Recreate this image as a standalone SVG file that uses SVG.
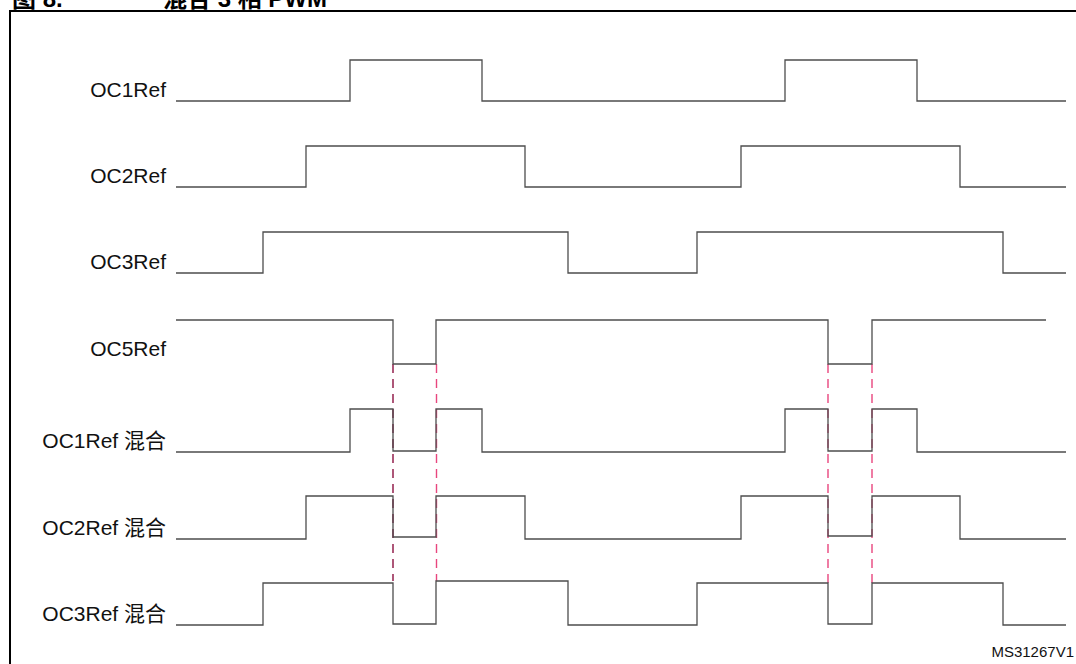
<svg xmlns="http://www.w3.org/2000/svg" width="1076" height="664" viewBox="0 0 1076 664">
<style>
.bg{fill:#ffffff}
.frame{fill:none;stroke:#000;stroke-width:2}
.title{font-family:"Liberation Sans","Noto Sans CJK SC",sans-serif;font-weight:bold;font-size:24px;fill:#000}
.lbl{font-family:"Liberation Sans","Noto Sans CJK SC",sans-serif;font-size:21px;fill:#111;text-anchor:end}
.note{font-family:"Liberation Sans",sans-serif;font-size:15px;fill:#111;text-anchor:end}
.wave{fill:none;stroke:#4d4d4d;stroke-width:1.3}
.d1{stroke:#8c1040;stroke-width:1.4;stroke-dasharray:9 6;fill:none}
.d2{stroke:#e8467e;stroke-width:1.4;stroke-dasharray:9 6;fill:none}
</style>
<rect class="bg" x="0" y="0" width="1076" height="664"/>
<text class="title" x="12" y="7">图 8.</text>
<text class="title" x="163" y="7">混合 3 相 PWM</text>
<path class="frame" d="M10,666 V11 H1078"/>

<g id="connectors">
<line class="d1" x1="393" y1="364" x2="393" y2="581"/>
<line class="d2" x1="436.5" y1="364" x2="436.5" y2="581"/>
<line class="d2" x1="828" y1="364" x2="828" y2="583"/>
<line class="d2" x1="872" y1="364" x2="872" y2="583"/>
</g>

<g id="oc1ref">
<text class="lbl" x="166" y="97">OC1Ref</text>
<path class="wave" d="M176,101 H350 V60 H482 V101 H785 V60 H917 V101 H1066"/>
</g>
<g id="oc2ref">
<text class="lbl" x="166" y="183">OC2Ref</text>
<path class="wave" d="M176,187 H306 V146 H525 V187 H741 V146 H960 V187 H1066"/>
</g>
<g id="oc3ref">
<text class="lbl" x="166" y="269">OC3Ref</text>
<path class="wave" d="M176,273 H263 V232 H568 V273 H697 V232 H1003 V273 H1066"/>
</g>
<g id="oc5ref">
<text class="lbl" x="166" y="356">OC5Ref</text>
<path class="wave" d="M176,320 H393 V364 H436 V320 H828 V364 H872 V320 H1046"/>
</g>
<g id="oc1mix">
<text class="lbl" x="166" y="448">OC1Ref 混合</text>
<path class="wave" d="M176,452 H350 V409 H393 V451 H436 V409 H482 V452 H785 V409 H828 V451 H872 V409 H917 V452 H1066"/>
</g>
<g id="oc2mix">
<text class="lbl" x="166" y="535">OC2Ref 混合</text>
<path class="wave" d="M176,539 H306 V496 H393 V537 H436 V496 H525 V539 H741 V496 H828 V536 H872 V496 H960 V539 H1066"/>
</g>
<g id="oc3mix">
<text class="lbl" x="166" y="621">OC3Ref 混合</text>
<path class="wave" d="M176,625 H263 V583 H393 V624 H436 V581 H568 V625 H697 V583 H828 V624 H872 V583 H1003 V625 H1066"/>
</g>

<text class="note" x="1074" y="657">MS31267V1</text>
</svg>
